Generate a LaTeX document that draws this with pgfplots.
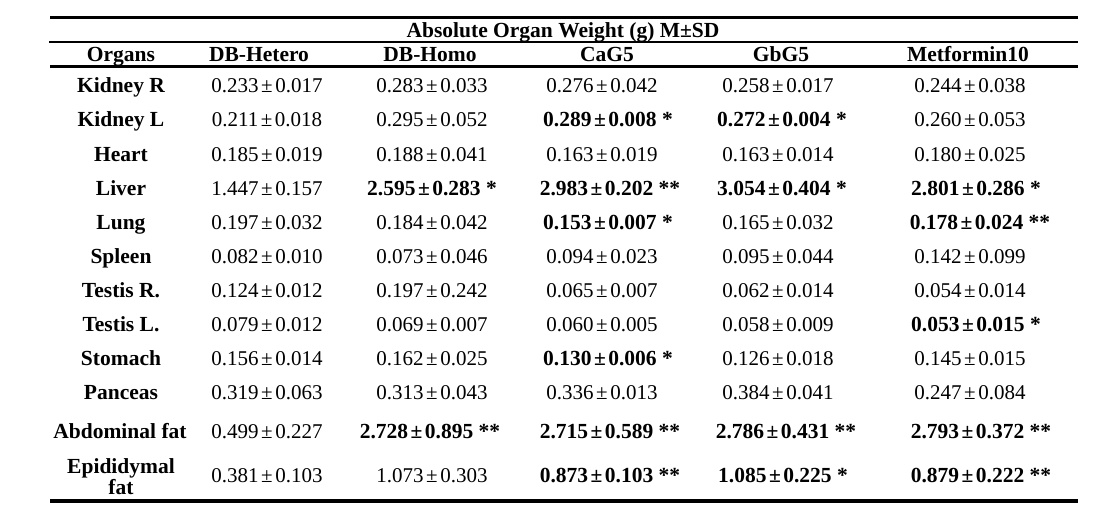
\documentclass[border=0pt]{standalone}
\usepackage{pgfplots}
\pgfplotsset{compat=1.18}
\usepackage{fontspec}
\setmainfont{Liberation Serif}
\newcommand{\pmv}[2]{#1\kern2.5pt±\kern2.5pt#2}
\newcommand{\V}[3]{\node[anchor=base,inner sep=0pt] at (axis cs:#1,#2) {\fontsize{21}{23}\selectfont #3};}
\newcommand{\B}[3]{\node[anchor=base,inner sep=0pt] at (axis cs:#1,#2) {\fontsize{21.5}{23}\selectfont\bfseries #3};}
\begin{document}
\begin{tikzpicture}
\begin{axis}[
  width=1111pt, height=524pt, scale only axis,
  xmin=0, xmax=1111, ymin=0, ymax=524, y dir=reverse,
  hide axis, clip=false]
\path (axis cs:0,0) rectangle (axis cs:1111,524);
% rules
\draw[line width=3pt] (axis cs:50,17.5) -- (axis cs:1078,17.5);
\draw[line width=1.3pt] (axis cs:49,42) -- (axis cs:1078,42);
\draw[line width=3pt] (axis cs:50,66.5) -- (axis cs:1078,66.5);
\draw[line width=3.5pt] (axis cs:50,501) -- (axis cs:1078,501);
% title and header
\B{563}{38}{Absolute Organ Weight (g) M±SD}
\B{121}{62}{Organs}
\B{259}{62}{DB-Hetero}
\B{430}{62}{DB-Homo}
\B{607}{62}{CaG5}
\B{781}{62}{GbG5}
\B{968}{62}{Metformin10}
% organ names
\B{121}{93}{Kidney R}
\B{121}{127}{Kidney L}
\B{121}{161}{Heart}
\B{121}{195}{Liver}
\B{121}{229}{Lung}
\B{121}{263}{Spleen}
\B{121}{297}{Testis R.}
\B{121}{331}{Testis L.}
\B{121}{365}{Stomach}
\B{121}{399}{Panceas}
\B{120}{438}{Abdominal fat}
\B{121}{473}{Epididymal}
\B{121}{494}{fat}
% Kidney R
\V{267}{93}{\pmv{0.233}{0.017}}
\V{432}{93}{\pmv{0.283}{0.033}}
\V{602}{93}{\pmv{0.276}{0.042}}
\V{778}{93}{\pmv{0.258}{0.017}}
\V{970}{93}{\pmv{0.244}{0.038}}
% Kidney L
\V{267}{127}{\pmv{0.211}{0.018}}
\V{432}{127}{\pmv{0.295}{0.052}}
\B{608}{127}{\pmv{0.289}{0.008} *}
\B{782}{127}{\pmv{0.272}{0.004} *}
\V{970}{127}{\pmv{0.260}{0.053}}
% Heart
\V{267}{161}{\pmv{0.185}{0.019}}
\V{432}{161}{\pmv{0.188}{0.041}}
\V{602}{161}{\pmv{0.163}{0.019}}
\V{778}{161}{\pmv{0.163}{0.014}}
\V{970}{161}{\pmv{0.180}{0.025}}
% Liver
\V{267}{195}{\pmv{1.447}{0.157}}
\B{432}{195}{\pmv{2.595}{0.283} *}
\B{610}{195}{\pmv{2.983}{0.202} **}
\B{782}{195}{\pmv{3.054}{0.404} *}
\B{976}{195}{\pmv{2.801}{0.286} *}
% Lung
\V{267}{229}{\pmv{0.197}{0.032}}
\V{432}{229}{\pmv{0.184}{0.042}}
\B{608}{229}{\pmv{0.153}{0.007} *}
\V{778}{229}{\pmv{0.165}{0.032}}
\B{980}{229}{\pmv{0.178}{0.024} **}
% Spleen
\V{267}{263}{\pmv{0.082}{0.010}}
\V{432}{263}{\pmv{0.073}{0.046}}
\V{602}{263}{\pmv{0.094}{0.023}}
\V{778}{263}{\pmv{0.095}{0.044}}
\V{970}{263}{\pmv{0.142}{0.099}}
% Testis R.
\V{267}{297}{\pmv{0.124}{0.012}}
\V{432}{297}{\pmv{0.197}{0.242}}
\V{602}{297}{\pmv{0.065}{0.007}}
\V{778}{297}{\pmv{0.062}{0.014}}
\V{970}{297}{\pmv{0.054}{0.014}}
% Testis L.
\V{267}{331}{\pmv{0.079}{0.012}}
\V{432}{331}{\pmv{0.069}{0.007}}
\V{602}{331}{\pmv{0.060}{0.005}}
\V{778}{331}{\pmv{0.058}{0.009}}
\B{976}{331}{\pmv{0.053}{0.015} *}
% Stomach
\V{267}{365}{\pmv{0.156}{0.014}}
\V{432}{365}{\pmv{0.162}{0.025}}
\B{608}{365}{\pmv{0.130}{0.006} *}
\V{778}{365}{\pmv{0.126}{0.018}}
\V{970}{365}{\pmv{0.145}{0.015}}
% Panceas
\V{267}{399}{\pmv{0.319}{0.063}}
\V{432}{399}{\pmv{0.313}{0.043}}
\V{602}{399}{\pmv{0.336}{0.013}}
\V{778}{399}{\pmv{0.384}{0.041}}
\V{970}{399}{\pmv{0.247}{0.084}}
% Abdominal fat
\V{267}{438}{\pmv{0.499}{0.227}}
\B{430}{438}{\pmv{2.728}{0.895} **}
\B{610}{438}{\pmv{2.715}{0.589} **}
\B{786}{438}{\pmv{2.786}{0.431} **}
\B{981}{438}{\pmv{2.793}{0.372} **}
% Epididymal fat
\V{267}{482}{\pmv{0.381}{0.103}}
\V{432}{482}{\pmv{1.073}{0.303}}
\B{610}{482}{\pmv{0.873}{0.103} **}
\B{783}{482}{\pmv{1.085}{0.225} *}
\B{981}{482}{\pmv{0.879}{0.222} **}
\end{axis}
\end{tikzpicture}
\end{document}
